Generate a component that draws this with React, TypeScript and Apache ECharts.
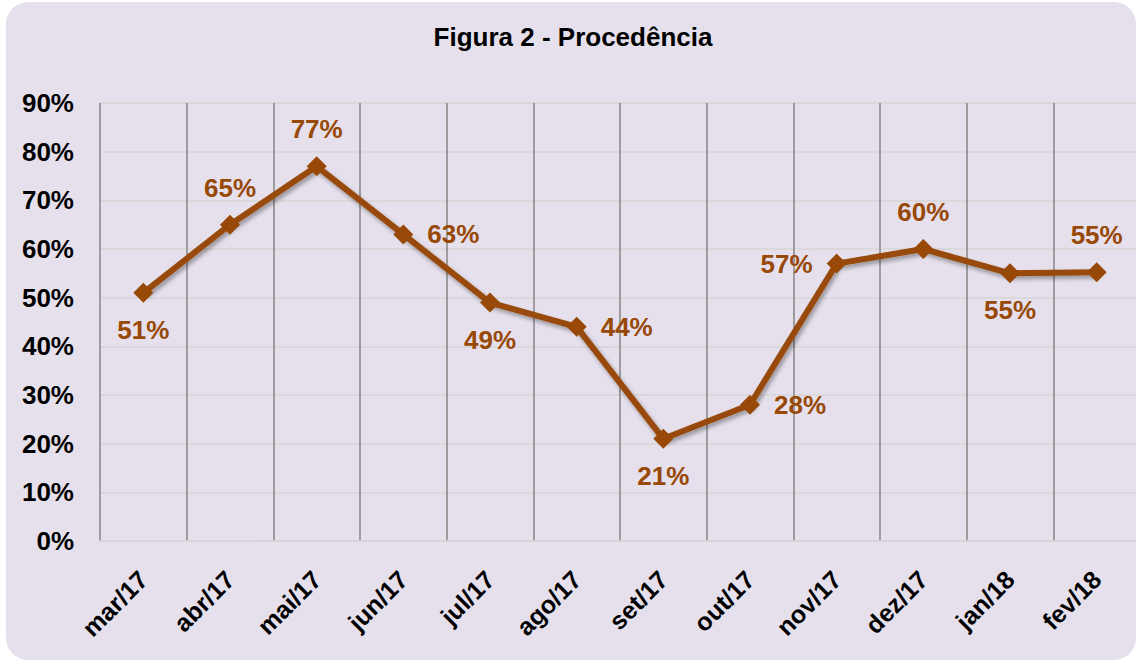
import React, { useEffect, useRef } from "react";
import * as echarts from "echarts";

const titleText = "Figura 2 - Procedência";
const categories = ["mar/17", "abr/17", "mai/17", "jun/17", "jul/17", "ago/17", "set/17", "out/17", "nov/17", "dez/17", "jan/18", "fev/18"];
const values = [51, 65, 77, 63, 49, 44, 21, 28, 57, 60, 55, 55.2];
const labelPositions = ["bottom", "top", "top", "right", "bottom", "right", "bottom", "right", "left", "top", "bottom", "top"];
const yMin = 0;
const yMax = 90;
const yInterval = 10;

const LINE_COLOR = "#984807";
const FONT = "Arial, 'Liberation Sans', Helvetica, sans-serif";

export default function App() {
  const ref = useRef<HTMLDivElement>(null);

  useEffect(() => {
    if (!ref.current) return;
    const chart = echarts.init(ref.current, undefined, { renderer: "svg" });
    const option: any = {
      animation: false,
      backgroundColor: "#ffffff",
      textStyle: { fontFamily: FONT },
      graphic: [
        {
          type: "rect",
          z: -10,
          silent: true,
          shape: { x: 6, y: 2, width: 1130, height: 658, r: 22 },
          style: { fill: "#e5e0ec" },
        },
      ],
      title: {
        text: titleText,
        left: 568,
        textAlign: "center",
        top: 19,
        textStyle: { fontFamily: FONT, fontSize: 26, fontWeight: "bold", color: "#000000" },
      },
      grid: {
        left: 100,
        right: -4,
        top: 103,
        bottom: 119,
        containLabel: false,
        outerBoundsMode: "none",
      },
      xAxis: {
        type: "category",
        data: categories,
        boundaryGap: true,
        axisLine: { show: true, lineStyle: { color: "#d6d6d6", width: 1.5 } },
        axisTick: { show: false },
        splitLine: { show: true, lineStyle: { color: "#868686", width: 1.5 } },
        axisLabel: {
          interval: 0,
          rotate: 45,
          margin: 34,
          fontFamily: FONT,
          fontSize: 25,
          fontWeight: "bold",
          color: "#000000",
        },
      },
      yAxis: {
        type: "value",
        min: yMin,
        max: yMax,
        interval: yInterval,
        axisLine: { show: false },
        axisTick: { show: false },
        splitLine: { show: true, lineStyle: { color: "#d6d6d6", width: 1.5 } },
        axisLabel: {
          margin: 26,
          formatter: "{value}%",
          fontFamily: FONT,
          fontSize: 26,
          fontWeight: "bold",
          color: "#000000",
        },
      },
      series: [
        {
          type: "line",
          data: values.map((v, i) => ({
            value: v,
            label: { position: labelPositions[i] },
          })),
          symbol: "diamond",
          symbolSize: 20,
          lineStyle: {
            color: LINE_COLOR,
            width: 6,
            shadowColor: "rgba(0,0,0,0.35)",
            shadowBlur: 4,
            shadowOffsetX: 2,
            shadowOffsetY: 3,
          },
          itemStyle: { color: LINE_COLOR },
          label: {
            show: true,
            distance: 14,
            formatter: (p: any) => Math.round(p.value) + "%",
            fontFamily: FONT,
            fontSize: 26,
            fontWeight: "bold",
            color: LINE_COLOR,
          },
        },
      ],
    };
    chart.setOption(option);
    return () => chart.dispose();
  }, []);

  return (
    <div
      ref={ref}
      style={{ position: "fixed", left: 0, top: 0, width: 1136, height: 660 }}
    />
  );
}
